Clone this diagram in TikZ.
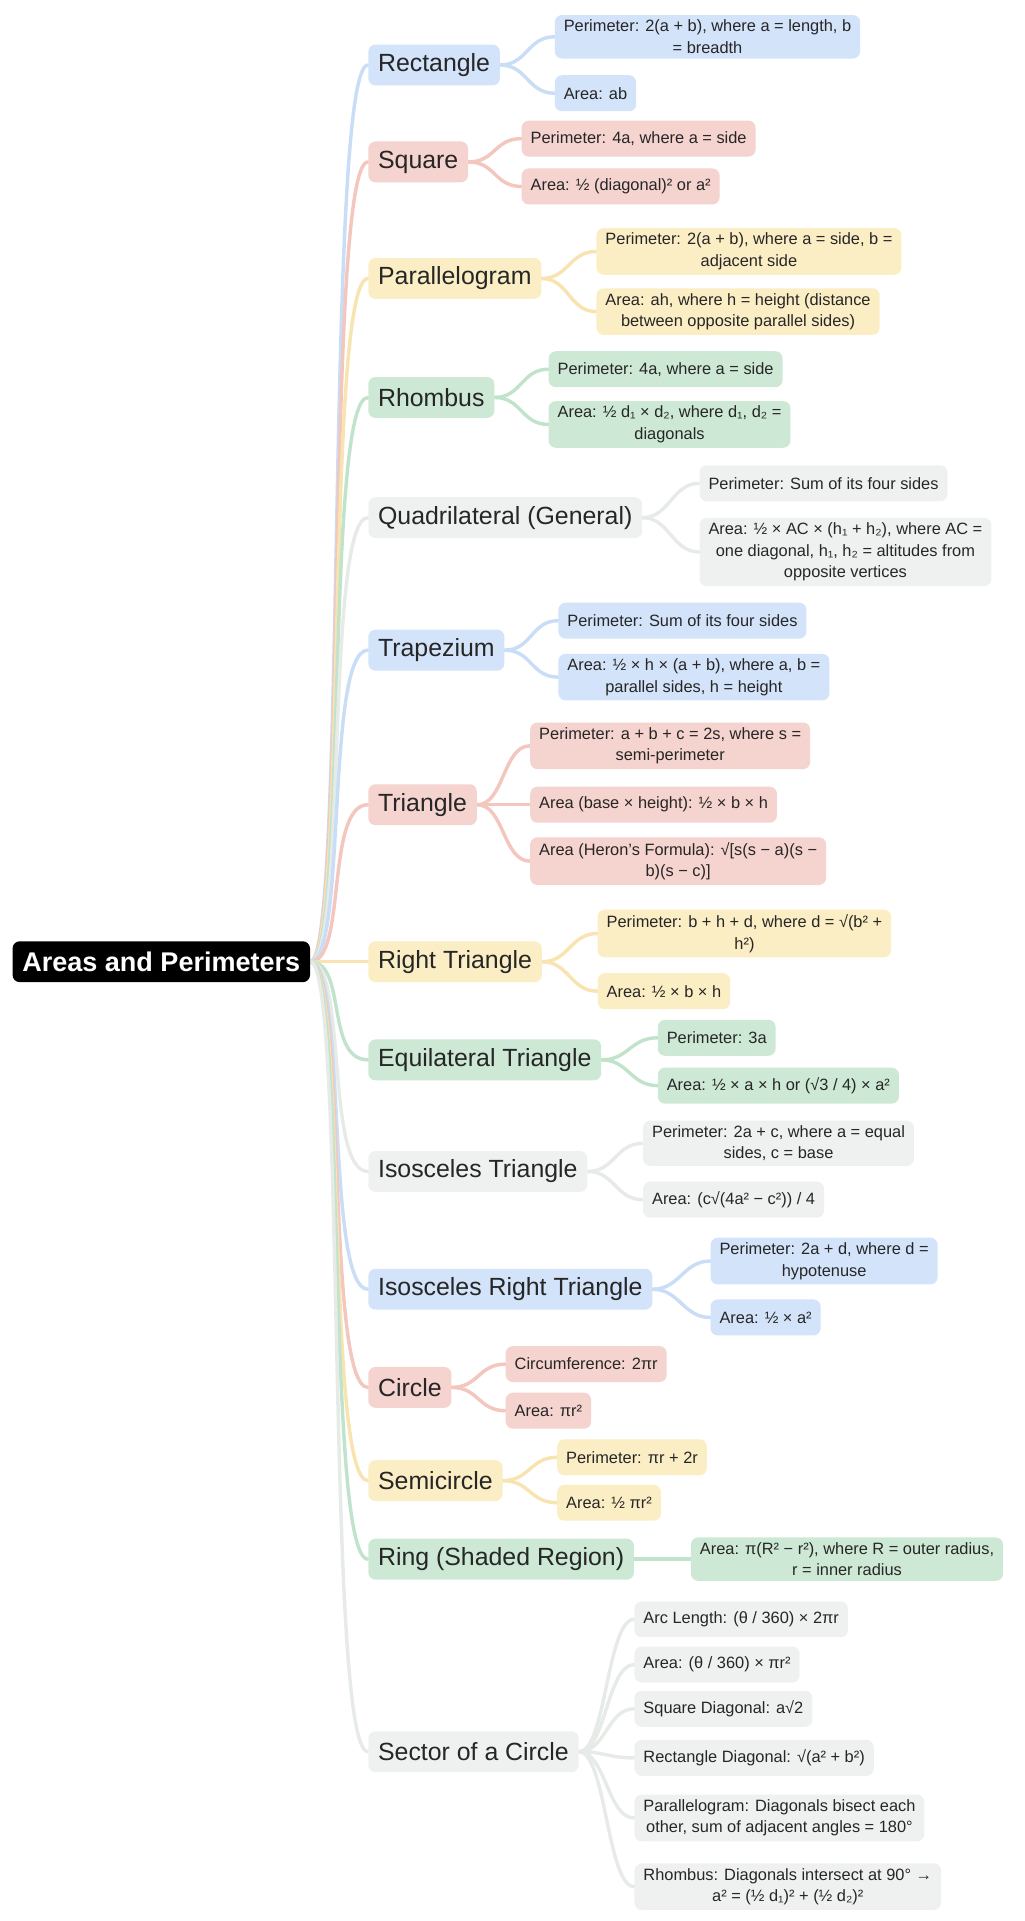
\documentclass[tikz,border=0pt]{standalone}
\usepackage{fontspec}
\setmainfont{Liberation Sans}
\begin{document}
\definecolor{fB}{HTML}{D3E3FA}\definecolor{lB}{HTML}{C9DDF7}
\definecolor{fR}{HTML}{F5D3CE}\definecolor{lR}{HTML}{F3C6BE}
\definecolor{fY}{HTML}{FBEEC5}\definecolor{lY}{HTML}{F8E4B0}
\definecolor{fG}{HTML}{CDE9D5}\definecolor{lG}{HTML}{C2E3CB}
\definecolor{fS}{HTML}{EFF1F0}\definecolor{lS}{HTML}{E6EBE8}
\begin{tikzpicture}[x=0.03cm,y=-0.03cm,
 box/.style={rounded corners=5pt,anchor=west,align=center,text=black!85},
 cat/.style={box,font=\fontsize{17.3}{19}\selectfont,inner xsep=0.24cm,minimum height=1.0cm},
 lf/.style={box,font=\fontsize{11.4}{15}\selectfont,inner xsep=0.22cm,inner ysep=0.12cm,minimum height=0.88cm},
 B/.style={fill=fB},R/.style={fill=fR},Y/.style={fill=fY},G/.style={fill=fG},S/.style={fill=fS},
 ln/.style={line width=2.4pt,line cap=round}]
\useasboundingbox (0,0) rectangle (835,1566);
\node[box,fill=black,text=white,font=\bfseries\fontsize{18.8}{21}\selectfont,minimum height=1.0cm,inner xsep=0.24cm] (root) at (10,784) {Areas and Perimeters};
\foreach \n/\y/\c/\t in {c1/53/B/Rectangle,c2/132/R/Square,c3/227/Y/Parallelogram,c4/324/G/Rhombus,c5/422/S/Quadrilateral (General),c6/530/B/Trapezium,c7/656/R/Triangle,c8/784/Y/Right Triangle,c9/864/G/Equilateral Triangle,c10/955/S/Isosceles Triangle,c11/1051/B/Isosceles Right Triangle,c12/1131/R/Circle,c13/1207/Y/Semicircle,c14/1271/G/Ring (Shaded Region),c15/1428/S/Sector of a Circle}
 {\node[cat,\c] (\n) at (300,\y) {\t};}
\node[lf,B] (a1) at (452,30) {Perimeter: 2(a + b), where a = length, b\\= breadth};
\node[lf,B] (a2) at (452,76) {Area: ab};
\node[lf,R] (b1) at (425,113) {Perimeter: 4a, where a = side};
\node[lf,R] (b2) at (425,152) {Area: ½ (diagonal)² or a²};
\node[lf,Y] (d1) at (486,205) {Perimeter: 2(a + b), where a = side, b =\\adjacent side};
\node[lf,Y] (d2) at (486,254) {Area: ah, where h = height (distance\\between opposite parallel sides)};
\node[lf,G] (e1) at (447,301) {Perimeter: 4a, where a = side};
\node[lf,G] (e2) at (447,346) {Area: ½ d₁ × d₂, where d₁, d₂ =\\diagonals};
\node[lf,S] (f1) at (570,394) {Perimeter: Sum of its four sides};
\node[lf,S] (f2) at (570,450) {Area: ½ × AC × (h₁ + h₂), where AC =\\one diagonal, h₁, h₂ = altitudes from\\opposite vertices};
\node[lf,B] (g1) at (455,506) {Perimeter: Sum of its four sides};
\node[lf,B] (g2) at (455,552) {Area: ½ × h × (a + b), where a, b =\\parallel sides, h = height};
\node[lf,R] (h1) at (432,608) {Perimeter: a + b + c = 2s, where s =\\semi-perimeter};
\node[lf,R] (h2) at (432,656) {Area (base × height): ½ × b × h};
\node[lf,R] (h3) at (432,702) {Area (Heron’s Formula): √[s(s − a)(s −\\b)(s − c)]};
\node[lf,Y] (i1) at (487,761) {Perimeter: b + h + d, where d = √(b² +\\h²)};
\node[lf,Y] (i2) at (487,808) {Area: ½ × b × h};
\node[lf,G] (j1) at (536,846) {Perimeter: 3a};
\node[lf,G] (j2) at (536,885) {Area: ½ × a × h or (√3 / 4) × a²};
\node[lf,S] (k1) at (524,932) {Perimeter: 2a + c, where a = equal\\sides, c = base};
\node[lf,S] (k2) at (524,978) {Area: (c√(4a² − c²)) / 4};
\node[lf,B] (l1) at (579,1028) {Perimeter: 2a + d, where d =\\hypotenuse};
\node[lf,B] (l2) at (579,1074) {Area: ½ × a²};
\node[lf,R] (m1) at (412,1112) {Circumference: 2πr};
\node[lf,R] (m2) at (412,1150) {Area: πr²};
\node[lf,Y] (n1) at (454,1188) {Perimeter: πr + 2r};
\node[lf,Y] (n2) at (454,1225) {Area: ½ πr²};
\node[lf,G] (o1) at (563,1271) {Area: π(R² − r²), where R = outer radius,\\r = inner radius};
\node[lf,S] (p1) at (517,1320) {Arc Length: (θ / 360) × 2πr};
\node[lf,S] (p2) at (517,1357) {Area: (θ / 360) × πr²};
\node[lf,S] (p3) at (517,1393) {Square Diagonal: a√2};
\node[lf,S] (p4) at (517,1433) {Rectangle Diagonal: √(a² + b²)};
\node[lf,S] (p5) at (517,1482) {Parallelogram: Diagonals bisect each\\other, sum of adjacent angles = 180°};
\node[lf,S] (p6) at (517,1538) {Rhombus: Diagonals intersect at 90° →\\a² = (½ d₁)² + (½ d₂)²};
\pgfdeclarelayer{bg}\pgfsetlayers{bg,main}
\begin{pgfonlayer}{bg}
\foreach \n/\c in {c1/lB,c2/lR,c3/lY,c4/lG,c5/lS,c6/lB,c7/lR,c8/lY,c9/lG,c10/lS,c11/lB,c12/lR,c13/lY,c14/lG,c15/lS}
 \draw[ln,\c] (root.east) .. controls +(30,0) and +(-35,0) .. (\n.west);
\foreach \p/\k/\c in {c1/a1/lB,c1/a2/lB,c2/b1/lR,c2/b2/lR,c3/d1/lY,c3/d2/lY,c4/e1/lG,c4/e2/lG,c5/f1/lS,c5/f2/lS,c6/g1/lB,c6/g2/lB,c7/h1/lR,c7/h2/lR,c7/h3/lR,c8/i1/lY,c8/i2/lY,c9/j1/lG,c9/j2/lG,c10/k1/lS,c10/k2/lS,c11/l1/lB,c11/l2/lB,c12/m1/lR,c12/m2/lR,c13/n1/lY,c13/n2/lY,c14/o1/lG,c15/p1/lS,c15/p2/lS,c15/p3/lS,c15/p4/lS,c15/p5/lS,c15/p6/lS}
 \draw[ln,\c] (\p.east) .. controls +(22,0) and +(-22,0) .. (\k.west);
\end{pgfonlayer}
\end{tikzpicture}
\end{document}
